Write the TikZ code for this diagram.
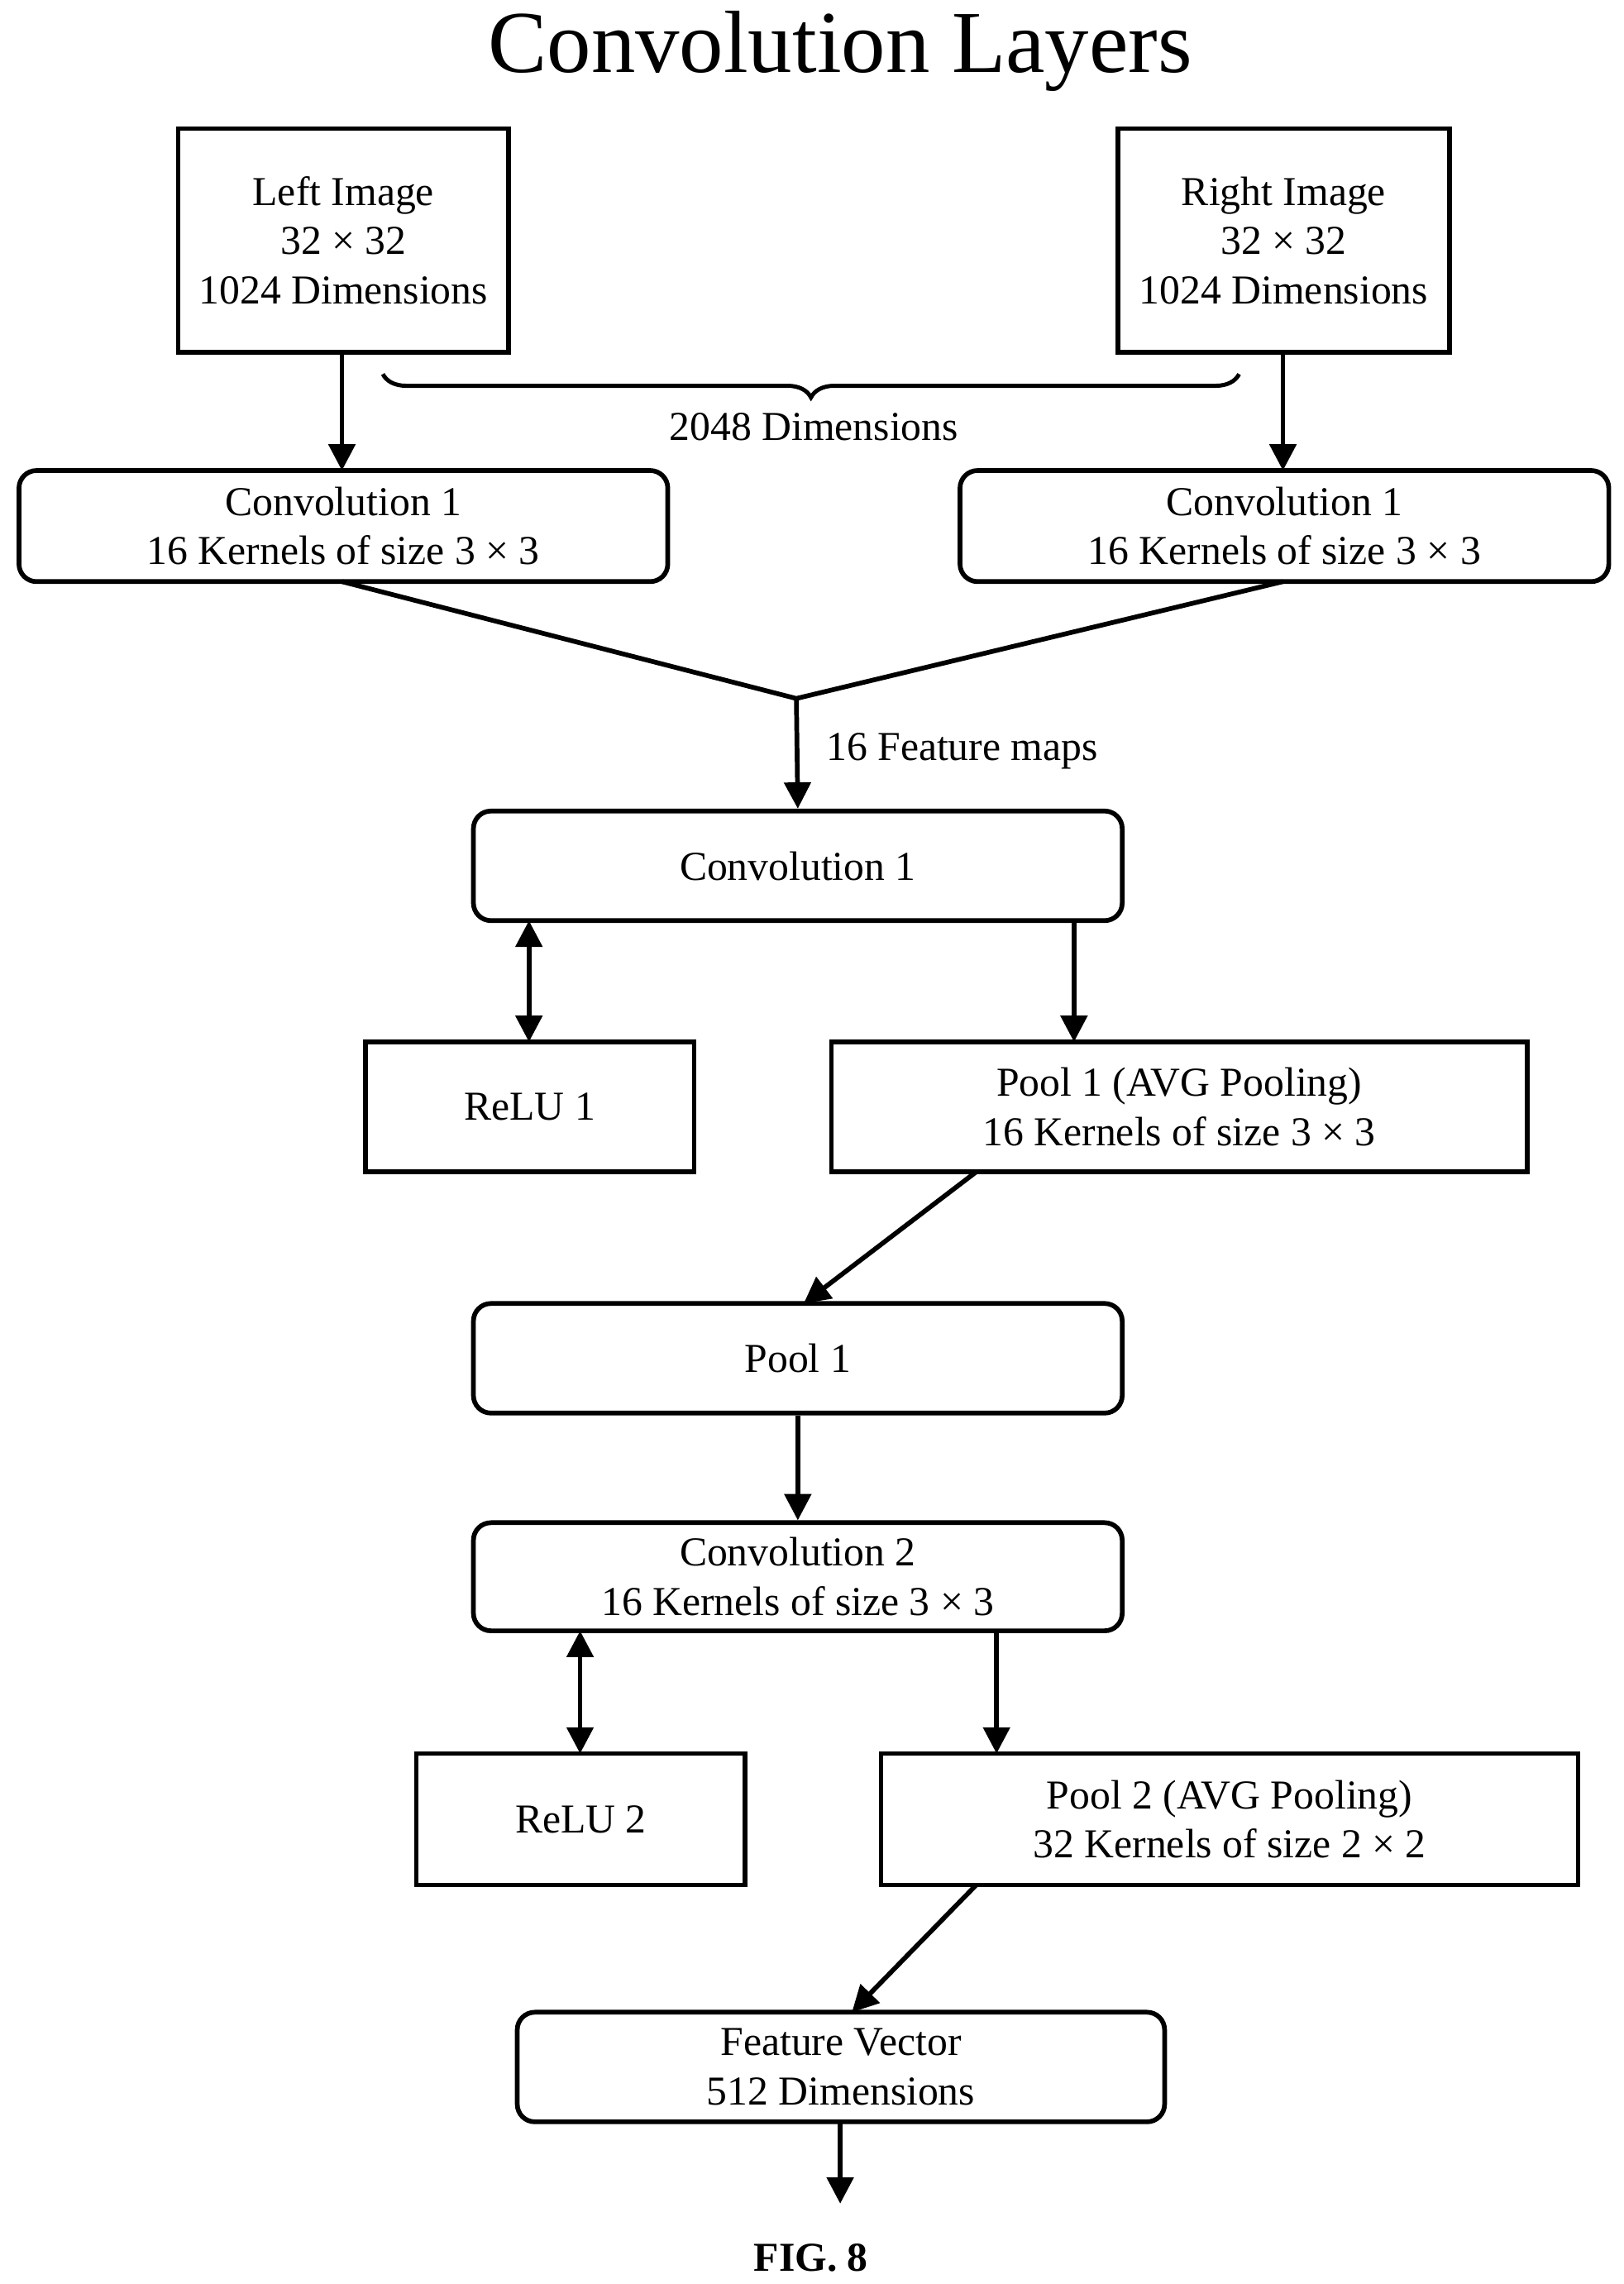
\documentclass[tikz,border=0pt]{standalone}
\usepackage{fontspec}
\setmainfont{Liberation Serif}
\usetikzlibrary{arrows.meta,decorations.pathreplacing}
\begin{document}
\begin{tikzpicture}[x=0.05cm,y=-0.05cm,
  lw/.style={line width=4.6pt},
  box/.style={draw,lw,align=center,inner sep=0pt,font=\fontsize{40}{48}\selectfont},
  rbox/.style={box,rounded corners=0.6cm},
  arr/.style={lw,-{Triangle[length=0.9cm,width=0.9cm]}},
  darr/.style={lw,{Triangle[length=0.9cm,width=0.9cm]}-{Triangle[length=0.9cm,width=0.9cm]}},
  lbl/.style={font=\fontsize{40}{48}\selectfont}]
\useasboundingbox (0,0) rectangle (1111,1563);
\node[font=\fontsize{86}{100}\selectfont] (title) at (575,35) {Convolution Layers};
\newcommand\bx[6]{\node[#1,minimum width={(#4-#3)*0.05cm},minimum height={(#6-#5)*0.05cm}] (#2) at ({(#3+#4)/2},{(#5+#6)/2})}
\bx{box}{li}{122}{348}{88}{241} {Left Image\\32 × 32\\1024 Dimensions};
\bx{box}{ri}{765}{992}{88}{241} {Right Image\\32 × 32\\1024 Dimensions};
\bx{rbox}{cl}{13}{457}{322}{398} {Convolution 1\\16 Kernels of size 3 × 3};
\bx{rbox}{cr}{657}{1101}{322}{398} {Convolution 1\\16 Kernels of size 3 × 3};
\bx{rbox}{cm}{324}{768}{555}{630} {Convolution 1};
\bx{box}{r1}{250}{475}{713}{802} {ReLU 1};
\bx{box}{p1}{569}{1045}{713}{802} {Pool 1 (AVG Pooling)\\16 Kernels of size 3 × 3};
\bx{rbox}{pm}{324}{768}{892}{967} {Pool 1};
\bx{rbox}{c2}{324}{768}{1042}{1116} {Convolution 2\\16 Kernels of size 3 × 3};
\bx{box}{r2}{285}{510}{1200}{1290} {ReLU 2};
\bx{box}{p2}{603}{1080}{1200}{1290} {Pool 2 (AVG Pooling)\\32 Kernels of size 2 × 2};
\bx{rbox}{fv}{354}{797}{1377}{1452} {Feature Vector\\512 Dimensions};
\coordinate (b1) at (848,256); \coordinate (b2) at (262,256);
\draw[line width=4pt,decorate,decoration={brace,amplitude=0.8cm}] (b1) -- (b2);
\node[lbl] (dim) at (557,292) {2048 Dimensions};
\draw[arr] (234,241) -- (234,322);
\draw[arr] (878,241) -- (878,322);
\coordinate (j) at (545,478);
\draw[lw] (234,398) -- (j) -- (878,398);
\draw[arr] (j) -- (cm.north);
\node[lbl,anchor=west] (fm) at (563,514) {16 Feature maps};
\draw[darr] (362,630) -- (362,713);
\draw[arr] (735,630) -- (735,713);
\draw[arr] (668,802) -- (550,892);
\draw[arr] (pm.south) -- (c2.north);
\draw[darr] (397,1116) -- (397,1200);
\draw[arr] (682,1116) -- (682,1200);
\draw[arr] (668,1290) -- (583,1377);
\coordinate (out) at (575,1508);
\draw[arr] (575,1452) -- (out);
\node[font=\fontsize{40}{48}\selectfont\bfseries] (fig) at (555,1545) {FIG. 8};
\end{tikzpicture}
\end{document}
